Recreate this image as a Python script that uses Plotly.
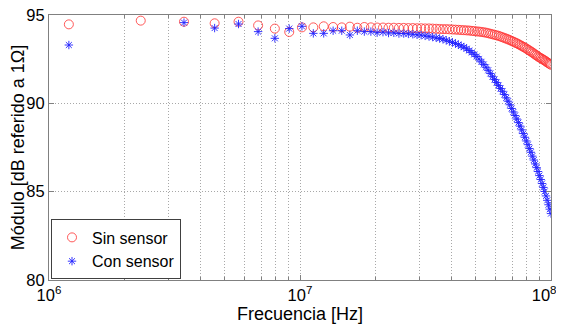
import plotly.graph_objects as go

# Frequency points (MHz)
freq_mhz = [1.20, 2.32, 3.45, 4.57, 5.69, 6.81, 7.94, 9.06, 10.18, 11.30,
            12.43, 13.55, 14.67, 15.80, 16.92, 18.04, 19.16, 20.29, 21.41, 22.53,
            23.65, 24.78, 25.90, 27.02, 28.15, 29.27, 30.39, 31.51, 32.64, 33.76,
            34.88, 36.00, 37.13, 38.25, 39.37, 40.50, 41.62, 42.74, 43.86, 44.99,
            46.11, 47.23, 48.35, 49.48, 50.60, 51.72, 52.85, 53.97, 55.09, 56.21,
            57.34, 58.46, 59.58, 60.70, 61.83, 62.95, 64.07, 65.20, 66.32, 67.44,
            68.56, 69.69, 70.81, 71.93, 73.05, 74.18, 75.30, 76.42, 77.55, 78.67,
            79.79, 80.91, 82.04, 83.16, 84.28, 85.40, 86.53, 87.65, 88.77, 89.90,
            91.02, 92.14, 93.26, 94.39, 95.51, 96.63, 97.75, 98.88, 100.00]

# "Sin sensor" (dB ref. 1 ohm)
sin_sensor = [94.47, 94.68, 94.62, 94.53, 94.62, 94.41, 94.23, 94.04, 94.30, 94.30,
              94.36, 94.32, 94.30, 94.34, 94.28, 94.32, 94.30, 94.29, 94.29, 94.28,
              94.28, 94.27, 94.27, 94.26, 94.26, 94.25, 94.25, 94.24, 94.24, 94.23,
              94.22, 94.21, 94.20, 94.20, 94.19, 94.18, 94.17, 94.16, 94.15, 94.14,
              94.13, 94.12, 94.10, 94.09, 94.07, 94.06, 94.04, 94.02, 94.00, 93.97,
              93.94, 93.91, 93.88, 93.85, 93.82, 93.78, 93.74, 93.70, 93.66, 93.62,
              93.58, 93.53, 93.49, 93.44, 93.40, 93.35, 93.30, 93.25, 93.20, 93.15,
              93.10, 93.04, 92.99, 92.93, 92.88, 92.82, 92.76, 92.71, 92.65, 92.60,
              92.56, 92.51, 92.47, 92.42, 92.37, 92.32, 92.27, 92.23, 92.18]

# "Con sensor" (dB ref. 1 ohm)
con_sensor = [93.30, None, 94.57, 94.26, 94.49, 94.06, 93.68, 94.23, 94.36, 93.96,
              93.96, 94.11, 94.11, 93.87, 94.11, 94.06, 94.06, 94.00, 94.03, 93.98,
              93.99, 93.95, 93.95, 93.93, 93.91, 93.88, 93.86, 93.82, 93.79, 93.75,
              93.71, 93.67, 93.63, 93.57, 93.51, 93.45, 93.39, 93.32, 93.25, 93.18,
              93.09, 92.99, 92.88, 92.77, 92.65, 92.50, 92.35, 92.20, 92.04, 91.87,
              91.69, 91.51, 91.35, 91.18, 91.01, 90.84, 90.68, 90.50, 90.31, 90.12,
              89.92, 89.71, 89.51, 89.31, 89.11, 88.91, 88.71, 88.50, 88.29, 88.08,
              87.87, 87.66, 87.44, 87.23, 87.01, 86.79, 86.57, 86.36, 86.14, 85.91,
              85.69, 85.46, 85.24, 85.01, 84.76, 84.51, 84.26, 84.01, 83.76]

x_major = [1e6, 1e7, 1e8]
x_major_text = ["10<sup>6</sup>", "10<sup>7</sup>",
                "10<sup>8</sup>\u00a0\u00a0\u00a0"]
y_ticks = [80, 85, 90, 95]

freq_hz = [f * 1e6 for f in freq_mhz]
x_minor = [m * d for d in (1e6, 1e7) for m in range(2, 10)]

FONT = "Liberation Sans, Arial, sans-serif"
BOX = "#808080"
GRID = "#a8a8a8"
DASH = "1px,2px"
RED = "#ff3030"
BLUE = "#2020ff"

fig = go.Figure()
fig.add_trace(go.Scatter(
    x=freq_hz, y=sin_sensor, mode="markers", name="Sin sensor",
    marker=dict(symbol="circle-open", size=9, color=RED,
                line=dict(width=0.8, color=RED)),
))
fig.add_trace(go.Scatter(
    x=freq_hz, y=con_sensor, mode="markers", name="Con sensor",
    marker=dict(symbol="asterisk-open", size=7, color=BLUE,
                line=dict(width=0.9, color=BLUE)),
))

# page body has an 8px margin: figure is 556x317, plot area lands at x 49-551, y 15-280
fig.update_layout(
    width=556, height=317,
    margin=dict(l=41, r=13, t=7, b=45, autoexpand=False),
    paper_bgcolor="white", plot_bgcolor="white",
    font=dict(family=FONT, size=16, color="black"),
    showlegend=True,
    legend=dict(
        x=0.004, y=0.002, xanchor="left", yanchor="bottom",
        bgcolor="white", bordercolor="#404040", borderwidth=1,
        font=dict(family=FONT, size=16, color="black"),
        tracegroupgap=0, itemsizing="trace", itemwidth=30,
    ),
)

fig.update_xaxes(
    type="log", range=[6, 8], automargin=False,
    tickvals=x_major, ticktext=x_major_text,
    ticks="inside", ticklen=5, tickcolor=BOX,
    showline=True, linecolor=BOX, linewidth=1, mirror="ticks",
    showgrid=True, gridcolor=GRID, griddash=DASH, gridwidth=1,
    zeroline=False, ticklabeloverflow="allow",
    minor=dict(tickvals=x_minor, ticks="inside", ticklen=3, tickcolor=BOX,
               showgrid=True, gridcolor=GRID, griddash=DASH, gridwidth=1),
    tickfont=dict(family=FONT, size=16.5, color="black"),
    title=dict(text="Frecuencia [Hz]", font=dict(family=FONT, size=18, color="black"),
               standoff=3),
)
fig.update_yaxes(
    range=[80, 95], tickvals=y_ticks, automargin=False,
    ticks="inside", ticklen=5, tickcolor=BOX,
    showline=True, linecolor=BOX, linewidth=1, mirror="ticks",
    showgrid=True, gridcolor=GRID, griddash=DASH, gridwidth=1,
    zeroline=False, ticklabeloverflow="allow",
    tickfont=dict(family=FONT, size=16.5, color="black"),
    title=dict(text="Módulo [dB referido a 1Ω]", font=dict(family=FONT, size=18, color="black"),
               standoff=2),
)

fig.write_html("out.html")
